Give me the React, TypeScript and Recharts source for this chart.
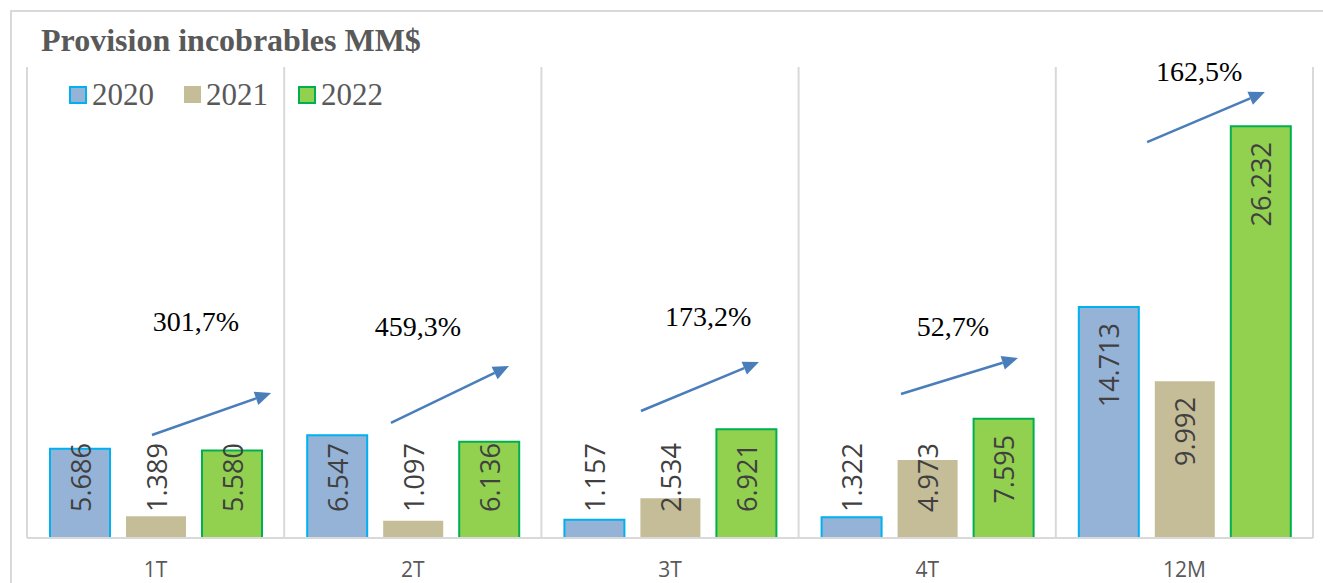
import React from 'react';
import { BarChart, Bar, XAxis, YAxis, LabelList, ReferenceLine, ScatterChart, Scatter } from 'recharts';

const categories = ['1T', '2T', '3T', '4T', '12M'];
const values2020 = [5686, 6547, 1157, 1322, 14713];
const values2021 = [1389, 1097, 2534, 4973, 9992];
const values2022 = [5580, 6136, 6921, 7595, 26232];

// growth notes (x in category units on a 0..5 axis, y in data units)
const growthLabels = ['301,7%', '459,3%', '173,2%', '52,7%', '162,5%'];
const growthX = [0.657, 1.52, 2.648, 3.6, 4.557];
const growthY = [13185, 12865, 13500, 12865, 29105];
const arrowSegments = [
    [{ x: 0.486, y: 6560 }, { x: 0.949, y: 9235 }],
    [{ x: 1.415, y: 7325 }, { x: 1.874, y: 10955 }],
    [{ x: 2.387, y: 8090 }, { x: 2.846, y: 11210 }],
    [{ x: 3.398, y: 9170 }, { x: 3.853, y: 11465 }],
    [{ x: 4.355, y: 25220 }, { x: 4.813, y: 28405 }],
];

const series = [
    { key: 'y2020', name: '2020', fill: '#95B3D7', stroke: '#00B0F0' },
    { key: 'y2021', name: '2021', fill: '#C4BD97', stroke: 'none' },
    { key: 'y2022', name: '2022', fill: '#92D050', stroke: '#00B050' },
];

const data = categories.map((c, i) => ({
    name: c,
    y2020: values2020[i],
    y2021: values2021[i],
    y2022: values2022[i],
}));

const growthData = growthLabels.map((g, i) => ({ x: growthX[i], y: growthY[i], label: g }));

const W = 1323;
const H = 583;
const MARGIN = { top: 67, right: 10, left: 27, bottom: 0 };
const AXIS_H = 45;
const Y_DOMAIN: [number, number] = [0, 30000];

const fmt = (v: number) => String(v).replace(/\B(?=(\d{3})+(?!\d))/g, '.');

const LABEL_FS = 27;

const ValueLabel = (props: any) => {
    const { x, y, width, height, value } = props;
    if ([x, y, width, height].some((n) => n == null || isNaN(n))) return null;
    const txt = fmt(value);
    const digits = txt.replace(/\./g, '').length;
    const dots = txt.length - digits;
    const len = (digits * 0.572 + dots * 0.27) * LABEL_FS;
    const base = y + height;
    const cx = x + width / 2;
    const topY = y + 16;
    let py = topY;
    let anchor: 'start' | 'end' = 'end';
    if (topY + len > base - 26) {
        py = base - 26;
        anchor = 'start';
    }
    return (
        <text
            x={cx}
            y={py}
            transform={`rotate(-90, ${cx}, ${py})`}
            textAnchor={anchor}
            dominantBaseline="central"
            fill="#404040"
            fontSize={LABEL_FS}
            fontFamily="'Open Sans', sans-serif"
        >
            {txt}
        </text>
    );
};

const Arrow = (props: any) => {
    const { x1, y1, x2, y2 } = props;
    if ([x1, y1, x2, y2].some((n) => n == null || isNaN(n))) return null;
    const ang = Math.atan2(y2 - y1, x2 - x1);
    const L = 16;
    const hw = 7;
    const bx = x2 - L * Math.cos(ang);
    const by = y2 - L * Math.sin(ang);
    const px = -Math.sin(ang) * hw;
    const py = Math.cos(ang) * hw;
    return (
        <g>
            <line x1={x1} y1={y1} x2={bx} y2={by} stroke="#4A7EBB" strokeWidth={2.5} />
            <polygon points={`${x2},${y2} ${bx + px},${by + py} ${bx - px},${by - py}`} fill="#4A7EBB" />
        </g>
    );
};

const GrowthText = (props: any) => {
    const { cx, cy, payload } = props;
    if (cx == null || cy == null) return null;
    return (
        <text x={cx} y={cy} textAnchor="middle" fill="#000" fontSize={28} fontFamily="'Liberation Serif', serif">
            {payload.label}
        </text>
    );
};

const LegendBox = () => (
    <div
        style={{
            position: 'absolute',
            left: 69,
            top: 79,
            display: 'flex',
            alignItems: 'center',
            fontFamily: "'Liberation Serif', serif",
            fontSize: 31,
            color: '#595959',
        }}
    >
        {series.map((s) => (
            <div key={s.key} style={{ display: 'flex', alignItems: 'center', marginRight: 30 }}>
                <span
                    style={{
                        display: 'inline-block',
                        width: s.stroke === 'none' ? 17 : 14,
                        height: s.stroke === 'none' ? 17 : 14,
                        background: s.fill,
                        border: s.stroke === 'none' ? 'none' : `2px solid ${s.stroke}`,
                        marginRight: 5,
                    }}
                />
                <span style={{ lineHeight: '31px' }}>{s.name}</span>
            </div>
        ))}
    </div>
);

export default function App() {
    return (
        <div style={{ position: 'absolute', left: 0, top: 0, width: W, height: H, background: '#fff', overflow: 'hidden' }}>
            <div
                style={{
                    position: 'absolute',
                    left: 10,
                    top: 10,
                    width: 1340,
                    height: 600,
                    borderLeft: '2px solid #d9d9d9',
                    borderTop: '2px solid #d9d9d9',
                }}
            />
            <div
                style={{
                    position: 'absolute',
                    left: 41,
                    top: 22,
                    fontFamily: "'Liberation Serif', serif",
                    fontWeight: 'bold',
                    fontSize: 32,
                    color: '#595959',
                    whiteSpace: 'nowrap',
                }}
            >
                Provision incobrables MM$
            </div>
            <LegendBox />
            <div style={{ position: 'absolute', left: 0, top: 0 }}>
                <BarChart width={W} height={H} data={data} margin={MARGIN} barSize={60} barGap={16}>
                    <XAxis
                        dataKey="name"
                        height={AXIS_H}
                        axisLine={{ stroke: '#d9d9d9', strokeWidth: 2 }}
                        tickLine={false}
                        tickMargin={18}
                        tick={{ fill: '#595959', fontSize: 21, fontFamily: "'Open Sans', sans-serif" }}
                    />
                    <YAxis hide domain={Y_DOMAIN} allowDataOverflow />
                    {categories.map((c) => (
                        <ReferenceLine key={`b${c}`} x={c} position="start" stroke="#d9d9d9" strokeWidth={2} />
                    ))}
                    <ReferenceLine x={categories[categories.length - 1]} position="end" stroke="#d9d9d9" strokeWidth={2} />
                    {series.map((s) => (
                        <Bar
                            key={s.key}
                            dataKey={s.key}
                            name={s.name}
                            fill={s.fill}
                            stroke={s.stroke}
                            strokeWidth={2}
                            isAnimationActive={false}
                        >
                            <LabelList dataKey={s.key} content={<ValueLabel />} />
                        </Bar>
                    ))}
                </BarChart>
            </div>
            <div style={{ position: 'absolute', left: 0, top: 0, pointerEvents: 'none' }}>
                <ScatterChart width={W} height={H} margin={{ ...MARGIN, bottom: AXIS_H }}>
                    <XAxis type="number" dataKey="x" domain={[0, 5]} hide />
                    <YAxis type="number" dataKey="y" domain={Y_DOMAIN} hide />
                    {arrowSegments.map((seg, i) => (
                        <ReferenceLine key={`a${i}`} segment={seg} shape={<Arrow />} />
                    ))}
                    <Scatter data={growthData} shape={<GrowthText />} isAnimationActive={false} />
                </ScatterChart>
            </div>
        </div>
    );
}
